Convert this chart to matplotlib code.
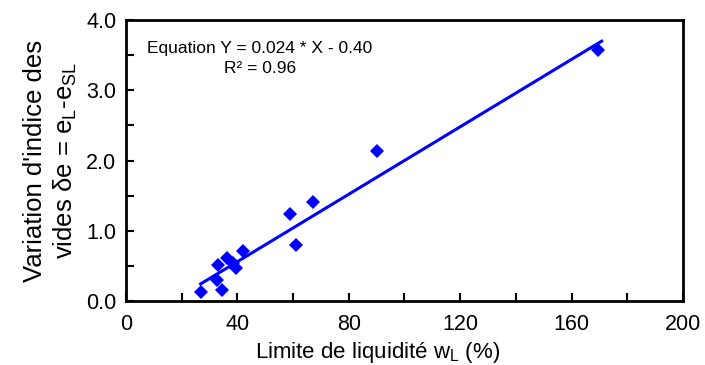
import matplotlib
matplotlib.use("Agg")
import matplotlib.pyplot as plt
import numpy as np
from matplotlib.ticker import MultipleLocator, FormatStrFormatter

plt.rcParams["font.family"] = ["Liberation Sans", "DejaVu Sans"]

# liquid limit wL (%) and void ratio variation
wl = [27.1, 34.5, 32.6, 33.0, 36.3, 38.4, 39.5, 42.0, 58.9, 61.0, 67.1, 90.1, 169.5]
de = [0.13, 0.16, 0.30, 0.51, 0.61, 0.54, 0.47, 0.71, 1.24, 0.80, 1.41, 2.13, 3.58]

slope = 0.024
intercept = -0.40
fit_x = [26.8, 170.8]

fig = plt.figure(figsize=(7.05, 3.65), dpi=100)
ax = fig.add_axes([0.1787, 0.1753, 0.7901, 0.7699])

fx = np.array(fit_x)
ax.plot(fx, slope * fx + intercept, color="#0000ff", lw=2.2)
ax.plot(wl, de, "D", color="#0000ff", markersize=7, markeredgewidth=0)

ax.set_xlim(0, 200)
ax.set_ylim(0, 4.0)
ax.xaxis.set_major_locator(MultipleLocator(40))
ax.xaxis.set_minor_locator(MultipleLocator(20))
ax.yaxis.set_major_locator(MultipleLocator(1.0))
ax.yaxis.set_minor_locator(MultipleLocator(0.5))
ax.yaxis.set_major_formatter(FormatStrFormatter("%.1f"))

for s in ax.spines.values():
    s.set_linewidth(2)
ax.tick_params(which="both", direction="in", length=6, width=1.5,
               top=False, right=False, labelsize=15.5)
ax.tick_params(axis="x", pad=9)
ax.tick_params(axis="y", pad=7)

ax.set_xlabel("Limite de liquidité w$_\\mathregular{L}$ (%)", fontsize=16)
ax.xaxis.set_label_coords(0.452, -0.183, transform=ax.transAxes)
ax.xaxis.label.set_va("center")
ax.set_ylabel("Variation d'indice des\nvides δe = e$_\\mathregular{L}$-e$_\\mathregular{SL}$",
              fontsize=18.5, labelpad=5, linespacing=1.2)

ax.text(0.2406, 0.863, "Equation Y = 0.024 * X - 0.40\nR² = 0.96",
        transform=ax.transAxes, ha="center", va="center", fontsize=12.5,
        multialignment="center", linespacing=1.45)

fig.savefig("out.png", dpi=100)
